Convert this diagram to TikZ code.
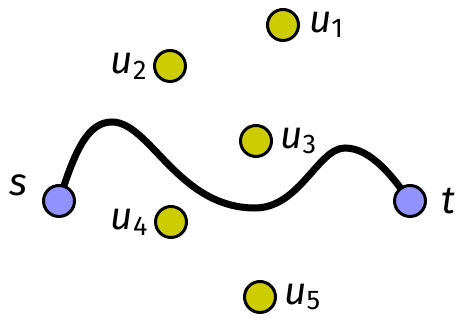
\documentclass[tikz,border=0pt]{standalone}
\usepackage{fontspec}
\setmainfont{Fira Sans}
\usetikzlibrary{positioning}
\definecolor{ptblue}{RGB}{145,145,255}
\definecolor{ptyellow}{RGB}{204,204,0}
\pgfdeclarelayer{background}
\pgfsetlayers{background,main}
\tikzset{
  term/.style={circle, draw=black, line width=1.7pt, fill=ptblue,
               minimum size=0.62cm, inner sep=0pt},
  obst/.style={circle, draw=black, line width=1.7pt, fill=ptyellow,
               minimum size=0.62cm, inner sep=0pt},
  lbl/.style={font=\fontsize{22}{25}\selectfont\itshape, inner sep=0pt},
  route/.style={line width=4pt, line cap=round},
}
\newcommand{\ulab}[1]{u\textsubscript{\upshape #1}}

\begin{document}
\begin{tikzpicture}[x=0.02cm, y=0.02cm]
    \useasboundingbox (0,0) rectangle (463,320);
    % end points
    \node[term] (s) at (59,119) {};
    \node[term] (t) at (410,119) {};
    % points off the path
    \node[obst] (u1) at (283,295) {};
    \node[obst] (u2) at (170,254) {};
    \node[obst] (u3) at (256,179) {};
    \node[obst] (u4) at (171,98) {};
    \node[obst] (u5) at (260,23) {};
    \node[lbl, above left=-4pt and 11pt of s] (ls) {s};
    \node[lbl, right=8pt of t] (lt) {t};
    \node[lbl, right=5pt of u1] (l1) {\ulab{1}};
    \node[lbl, left=3pt of u2] (l2) {\ulab{2}};
    \node[lbl, right=4pt of u3] (l3) {\ulab{3}};
    \node[lbl, left=3pt of u4] (l4) {\ulab{4}};
    \node[lbl, right=4pt of u5] (l5) {\ulab{5}};
    \begin{pgfonlayer}{background}
      \draw[route] (s.center) .. controls (75,170) and (88,198) .. (112,198)
        .. controls (150,198) and (178,112) .. (255,112)
        .. controls (300,112) and (318,172) .. (345,172)
        .. controls (372,172) and (395,140) .. (t.center);
    \end{pgfonlayer}
\end{tikzpicture}
\end{document}
